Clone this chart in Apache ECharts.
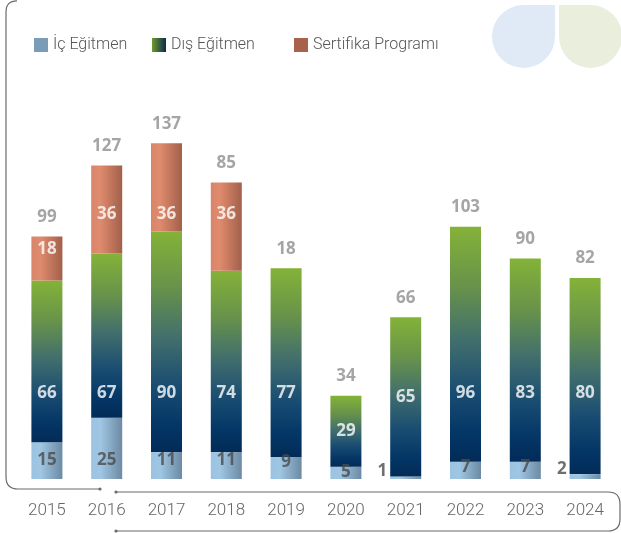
<!DOCTYPE html>
<html>
<head>
<meta charset="utf-8">
<script src="https://cdn.jsdelivr.net/npm/echarts@6/dist/echarts.min.js"></script>
<style>
  html, body { margin: 0; padding: 0; background: #fff; }
  #chart { width: 621px; height: 533px; }
</style>
</head>
<body>
<div id="chart"></div>
<script>
// Yearly training participation, stacked by training type
const years = ['2015', '2016', '2017', '2018', '2019', '2020', '2021', '2022', '2023', '2024'];
const icEgitmen = [15, 25, 11, 11, 9, 5, 1, 7, 7, 2];
const disEgitmen = [66, 67, 90, 74, 77, 29, 65, 96, 83, 80];
const sertifika = [18, 36, 36, 36, null, null, null, null, null, null];
const totalLabels = ['99', '127', '137', '85', '18', '34', '66', '103', '90', '82'];

const seriesNames = ['İç Eğitmen', 'Dış Eğitmen', 'Sertifika Programı'];

const FONT = 'Roboto, "Open Sans", sans-serif';
const BAR_W = 31;

const stackTop = years.map((_, i) => (icEgitmen[i] || 0) + (disEgitmen[i] || 0) + (sertifika[i] || 0));

// Heights at which the value labels sit inside each segment
const IC_LEVEL = 7.8, DIS_LEVEL = 35, SERT_LEVEL = 108;
const icLabelPts = icEgitmen.map((v, i) => {
  const small = v < 3;
  return {
    value: [i, small ? v / 2 : Math.min(IC_LEVEL, v - 2.3)],
    label: small ? { position: 'left', distance: BAR_W / 2 + 3, offset: [0, -7] } : {}
  };
});
const disLabelPts = disEgitmen.map((v, i) => [i, Math.min(DIS_LEVEL, icEgitmen[i] + v / 2)]);
const sertLabelPts = sertifika.map((v, i) =>
  v == null ? [i, null] : [i, Math.min(SERT_LEVEL, icEgitmen[i] + disEgitmen[i] + v - 5)]);

const grad = (x2, y2, stops) => new echarts.graphic.LinearGradient(0, 0, x2, y2,
  stops.map(s => ({ offset: s[0], color: s[1] })));

// lighter on the left, shaded towards the right edge
const icColor = grad(1, 0, [[0, '#9bc2e0'], [0.3, '#9fc6e3'], [1, '#6c8aa3']]);
const disColor = grad(0, 1, [
  [0, '#84b238'], [0.25, '#68934a'], [0.48, '#426f6c'],
  [0.7, '#1a4d72'], [0.88, '#043666'], [1, '#022b57']
]);
const sertColor = grad(1, 0, [[0, '#d8856a'], [0.28, '#e08b6e'], [1, '#a2604a']]);

const valueLabel = (color, formatter) => ({
  show: true, position: 'inside', color: color, fontFamily: '"Open Sans", sans-serif',
  fontWeight: 'bold', fontSize: 17, formatter: formatter
});

const legendText = { color: '#555', fontSize: 16, fontFamily: FONT, fontWeight: 300 };
const legendBase = {
  top: 32, icon: 'rect', itemWidth: 14, itemHeight: 14, selectedMode: false, textStyle: legendText
};

const FRAME = { stroke: '#6a6a6a', lineWidth: 1.2, fill: null };
const line = (x1, y1, x2, y2) => ({ type: 'line', silent: true, shape: { x1, y1, x2, y2 }, style: FRAME });
const corner = (x1, y1, cpx1, cpy1, x2, y2) => ({ type: 'bezierCurve', silent: true,
  shape: { x1, y1, cpx1, cpy1, x2, y2 }, style: FRAME });
const dot = (cx, cy) => ({ type: 'circle', silent: true, shape: { cx, cy, r: 1.6 }, style: { fill: '#6a6a6a' } });

const chart = echarts.init(document.getElementById('chart'), null, { renderer: 'canvas' });

chart.setOption({
  animation: false,
  backgroundColor: '#fff',
  grid: { left: 17, right: 6, top: 87, bottom: 54 },
  legend: [
    Object.assign({ left: 29, data: [{ name: seriesNames[0], itemStyle: { color: '#7b9cb7' } }] }, legendBase),
    Object.assign({ left: 147, data: [{ name: seriesNames[1], itemStyle: { color: grad(1, 0, [[0, '#6f9a2a'], [1, '#0a2a50']]) } }] }, legendBase),
    Object.assign({ left: 289, data: [{ name: seriesNames[2], itemStyle: { color: '#a8614b' } }] }, legendBase)
  ],
  xAxis: {
    type: 'category', data: years,
    axisLine: { show: false }, axisTick: { show: false },
    axisLabel: { color: '#666', fontSize: 17, fontFamily: FONT, fontWeight: 300, margin: 23 }
  },
  yAxis: { type: 'value', min: 0, max: 160, show: false, splitLine: { show: false } },
  series: [
    { name: seriesNames[0], type: 'bar', stack: 'main', barWidth: BAR_W, data: icEgitmen, itemStyle: { color: icColor } },
    { name: seriesNames[1], type: 'bar', stack: 'main', barWidth: BAR_W, data: disEgitmen, itemStyle: { color: disColor } },
    { name: seriesNames[2], type: 'bar', stack: 'main', barWidth: BAR_W, data: sertifika, itemStyle: { color: sertColor } },
    { name: 'icLabels', type: 'scatter', symbolSize: 0, silent: true, z: 6, data: icLabelPts,
      label: valueLabel('#4b4b4b', p => icEgitmen[p.dataIndex]) },
    { name: 'disLabels', type: 'scatter', symbolSize: 0, silent: true, z: 6, data: disLabelPts,
      label: valueLabel('#fff', p => disEgitmen[p.dataIndex]) },
    { name: 'sertLabels', type: 'scatter', symbolSize: 0, silent: true, z: 6, data: sertLabelPts,
      label: valueLabel('#fff', p => sertifika[p.dataIndex]) },
    { name: 'totals', type: 'scatter', symbolSize: 0, silent: true, z: 6,
      data: stackTop.map((v, i) => [i, v]),
      label: Object.assign(valueLabel('#8e8e8e', p => totalLabels[p.dataIndex]), { position: 'top', distance: 11 }) }
  ],
  graphic: [
    // decorative drops, top right: a circle with one squared quadrant each
    { type: 'circle', silent: true, shape: { cx: 523.5, cy: 36.5, r: 31.5 }, style: { fill: '#dfeaf6' } },
    { type: 'rect', silent: true, shape: { x: 523.5, y: 5, width: 31.5, height: 31.5 }, style: { fill: '#dfeaf6' } },
    { type: 'circle', silent: true, shape: { cx: 590.5, cy: 36.5, r: 31.5 }, style: { fill: '#e9efdc' } },
    { type: 'rect', silent: true, shape: { x: 559, y: 5, width: 31.5, height: 31.5 }, style: { fill: '#e9efdc' } },
    // frame on the left
    corner(17, 0.8, 6, 0.8, 6, 12),
    line(6, 12, 6, 477),
    corner(6, 477, 6, 489, 18, 489),
    line(18, 489, 100, 489),
    dot(100, 489),
    // frame around the year labels
    line(116, 492, 608, 492),
    corner(608, 492, 620, 492, 620, 504),
    line(620, 504, 620, 519),
    corner(620, 519, 620, 531, 608, 531),
    line(608, 531, 116, 531),
    dot(116, 492),
    dot(116, 531)
  ]
});
</script>
</body>
</html>
